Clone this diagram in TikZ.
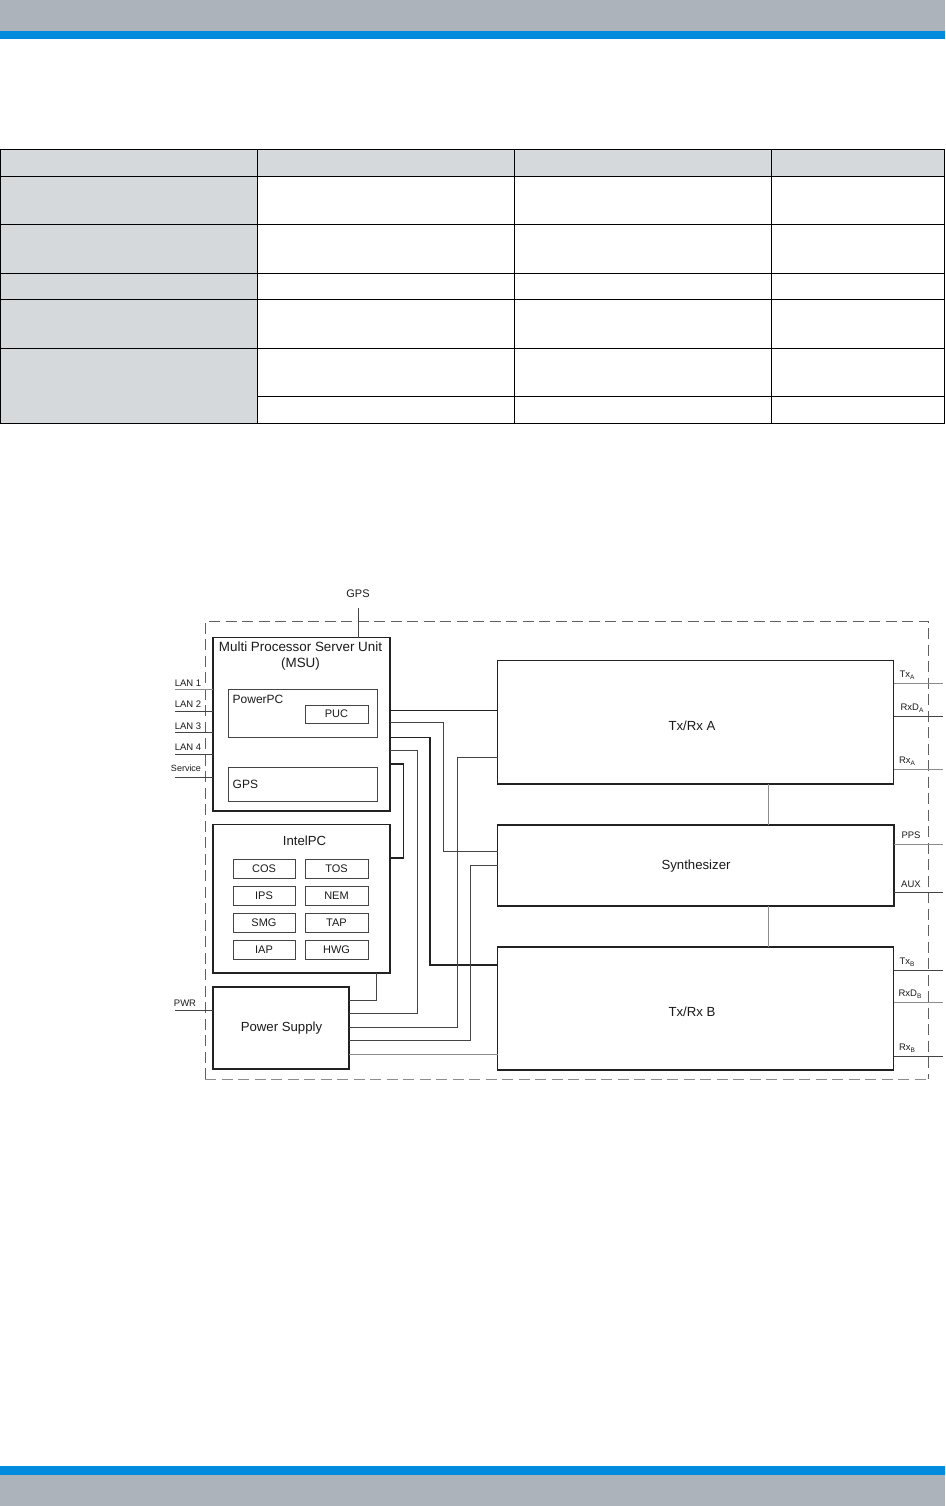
\documentclass[tikz,border=0pt]{standalone}
\usepackage{fontspec}
\setmainfont{Liberation Sans}
\usetikzlibrary{calc}
\definecolor{bandgray}{HTML}{ADB3BA}
\definecolor{bandblue}{HTML}{008BDD}
\definecolor{cellgray}{HTML}{D6D9DC}
\definecolor{linedark}{HTML}{222222}
\definecolor{linemid}{HTML}{444444}
\definecolor{linelight}{HTML}{8C8C8C}
\definecolor{inkgray}{HTML}{1A1A1A}
\tikzset{
  blockbox/.style={draw=linedark,line width=1.1pt,rectangle,inner sep=0pt,outer sep=0pt,text=inkgray},
  innerbox/.style={draw=linemid,line width=0.8pt,rectangle,inner sep=0pt,outer sep=0pt,text=inkgray,font=\fontsize{11}{13}\selectfont},
  wirebold/.style={draw=linedark,line width=1.1pt},
  wirethin/.style={draw=linemid,line width=1pt},
  wirelight/.style={draw=linelight,line width=0.8pt},
  portlabel/.style={text=inkgray,inner sep=0pt,font=\fontsize{9.5}{11}\selectfont},
  boxlabel/.style={text=inkgray,inner sep=0pt,font=\fontsize{13.2}{15}\selectfont},
  tablegrid/.style={draw=black,line width=1pt},
  enclosure/.style={line width=0.8pt,dash pattern=on 11pt off 5.5pt},
}
\newcommand{\pxbox}[7]{% style,name,x0,y0,x1,y1,text
  \pgfmathsetmacro{\pxw}{#5-#3}\pgfmathsetmacro{\pxh}{#6-#4}
  \pgfmathsetmacro{\pxcx}{(#3+#5)/2}\pgfmathsetmacro{\pxcy}{(#4+#6)/2}
  \node[#1,minimum width=\pxw pt,minimum height=\pxh pt] (#2) at (\pxcx,\pxcy) {#7};
}
\begin{document}
\begin{tikzpicture}[x=1pt,y=-1pt]
\useasboundingbox (0,0) rectangle (945,1506);
% page bands
\fill[bandgray] (0,0) rectangle (945,31);
\fill[bandblue] (0,31) rectangle (945,39);
\fill[bandblue] (0,1466) rectangle (945,1475);
\fill[bandgray] (0,1475) rectangle (945,1506);
% table
\fill[cellgray] (0.5,150) rectangle (944.5,176.5);
\fill[cellgray] (0.5,176.5) rectangle (257.5,423.5);
\draw[tablegrid] (0.5,150) rectangle (944.5,423.5);
\foreach \yy in {176.5,224.5,273,299.5,348}{\draw[tablegrid] (0.5,\yy) -- (944.5,\yy);}
\draw[tablegrid] (257.5,396.5) -- (944.5,396.5);
\foreach \xx in {257.5,514.5,771.5}{\draw[tablegrid] (\xx,150) -- (\xx,423.5);}
% dashed enclosure
\draw[enclosure,draw=linemid!85] (205,1079) -- (205,621) -- (928,621) -- (928,1079);
\draw[enclosure,draw=linelight] (205,1079) -- (928,1079);
% main blocks
\pxbox{blockbox}{msu}{213}{637.5}{390}{811}{}
\pxbox{innerbox}{ppc}{228.5}{689.5}{377}{737.5}{}
\pxbox{innerbox}{puc}{305}{705}{368}{723}{PUC}
\pxbox{innerbox}{gpsbox}{228.5}{767}{377}{801}{}
\pxbox{blockbox}{ipc}{213}{824.5}{390}{973}{}
\pxbox{innerbox}{cos}{233}{859.5}{295}{878.5}{COS}
\pxbox{innerbox}{tos}{305}{859.5}{368}{878.5}{TOS}
\pxbox{innerbox}{ips}{233}{886.5}{295}{905.5}{IPS}
\pxbox{innerbox}{nem}{305}{886.5}{368}{905.5}{NEM}
\pxbox{innerbox}{smg}{233}{913.5}{295}{932.5}{SMG}
\pxbox{innerbox}{tap}{305}{913.5}{368}{932.5}{TAP}
\pxbox{innerbox}{iap}{233}{940.5}{295}{959.5}{IAP}
\pxbox{innerbox}{hwg}{305}{940.5}{368}{959.5}{HWG}
\pxbox{blockbox}{psu}{213}{987}{349}{1069}{}
\pxbox{blockbox}{txa}{497.5}{660.5}{893.5}{784}{}
\pxbox{blockbox}{syn}{497.5}{825}{894}{906}{}
\pxbox{blockbox}{txb}{497.5}{947}{893.5}{1070}{}
% block labels
\node[text=inkgray,inner sep=0pt,font=\fontsize{13.4}{15}\selectfont,align=center] (msulabel) at (300.5,656) {Multi Processor Server Unit\\[1.6pt](MSU)};
\node[text=inkgray,inner sep=0pt,font=\fontsize{12}{14}\selectfont,anchor=west] (ppclabel) at (232.5,699.5) {PowerPC};
\node[text=inkgray,inner sep=0pt,font=\fontsize{12}{14}\selectfont,anchor=west] (gpslabel) at (232.5,784) {GPS};
\node[boxlabel] (ipclabel) at (304.5,841) {IntelPC};
\node[boxlabel] (psulabel) at (281.5,1028.5) {Power Supply};
\node[boxlabel] (txalabel) at (692,725.5) {Tx/Rx A};
\node[boxlabel] (synlabel) at (696,866.5) {Synthesizer};
\node[boxlabel] (txblabel) at (692,1011.5) {Tx/Rx B};
% internal wiring
\draw[wirebold] (msu.east |- 0,710.7) -- (txa.west |- 0,710.7);
\draw[wirethin] (msu.east |- 0,722) -- (443.7,722) -- (443.7,851) -- (syn.west |- 0,851);
\draw[wirebold] (msu.east |- 0,737.7) -- (430,737.7) -- (430,965) -- (txb.west |- 0,965);
\draw[wirethin] (msu.east |- 0,750.7) -- (417.3,750.7) -- (417.3,1013) -- (psu.east |- 0,1013);
\draw[wirebold] (msu.east |- 0,764) -- (403.5,764) -- (403.5,858) -- (ipc.east |- 0,858);
\draw[wirethin] (psu.east |- 0,1000.3) -- (376.5,1000.3) -- (ipc.south -| 376.5,0);
\draw[wirethin] (psu.east |- 0,1027.3) -- (457.3,1027.3) -- (457.3,757.3) -- (txa.west |- 0,757.3);
\draw[wirethin] (psu.east |- 0,1040.3) -- (470.7,1040.3) -- (470.7,865.3) -- (syn.west |- 0,865.3);
\draw[wirelight] (psu.east |- 0,1054.3) -- (txb.west |- 0,1054.3);
\draw[wirelight] (txa.south -| 768,0) -- (syn.north -| 768,0);
\draw[wirelight] (syn.south -| 768,0) -- (txb.north -| 768,0);
% external ports
\coordinate (gpsend) at (358.7,608);
\node[text=inkgray,inner sep=0pt,font=\fontsize{11}{13}\selectfont] (gpstop) at (358,593.5) {GPS};
\draw[wirethin] (gpsend) -- (msu.north -| gpsend);
\foreach \nm/\yy in {la/689,lb/711,lc/732.7,ld/754,sv/777,pw/1010.3}{
  \coordinate (\nm) at (175,\yy);
}
\draw[wirelight] (la) -- (msu.west |- la);
\draw[wirethin] (lb) -- (msu.west |- lb);
\draw[wirethin] (lc) -- (msu.west |- lc);
\draw[wirethin] (ld) -- (msu.west |- ld);
\draw[wirethin] (sv) -- (msu.west |- sv);
\draw[wirethin] (pw) -- (psu.west |- pw);
\node[portlabel] (t1) at (188,683) {LAN 1};
\node[portlabel] (t2) at (188,704.5) {LAN 2};
\node[portlabel] (t3) at (188,726) {LAN 3};
\node[portlabel] (t4) at (188,747) {LAN 4};
\node[portlabel,font=\fontsize{9}{10}\selectfont] (t5) at (186,768.5) {Service};
\node[portlabel] (t6) at (185,1003) {PWR};
\coordinate (r1) at (943,683.7);
\coordinate (r2) at (943,716.3);
\coordinate (r3) at (943,769);
\coordinate (r4) at (943,844);
\coordinate (r5) at (943,892.3);
\coordinate (r6) at (943,970.7);
\coordinate (r7) at (943,1002.3);
\coordinate (r8) at (943,1056);
\draw[wirelight] (txa.east |- r1) -- (r1);
\draw[wirethin] (txa.east |- r2) -- (r2);
\draw[wirelight] (txa.east |- r3) -- (r3);
\draw[wirelight] (syn.east |- r4) -- (r4);
\draw[wirethin] (syn.east |- r5) -- (r5);
\draw[wirethin] (txb.east |- r6) -- (r6);
\draw[wirelight] (txb.east |- r7) -- (r7);
\draw[wirethin] (txb.east |- r8) -- (r8);
\newcommand{\subs}[2]{#1\raisebox{-0.35ex}{\fontsize{6.5}{7}\selectfont #2}}
\node[portlabel] (n1) at (907,675) {\subs{Tx}{A}};
\node[portlabel] (n2) at (912,708) {\subs{RxD}{A}};
\node[portlabel] (n3) at (907,761) {\subs{Rx}{A}};
\node[portlabel] (n4) at (911,835) {PPS};
\node[portlabel] (n5) at (911,884) {AUX};
\node[portlabel] (n6) at (907,962.5) {\subs{Tx}{B}};
\node[portlabel] (n7) at (910,994) {\subs{RxD}{B}};
\node[portlabel] (n8) at (907,1048) {\subs{Rx}{B}};
\end{tikzpicture}
\end{document}
